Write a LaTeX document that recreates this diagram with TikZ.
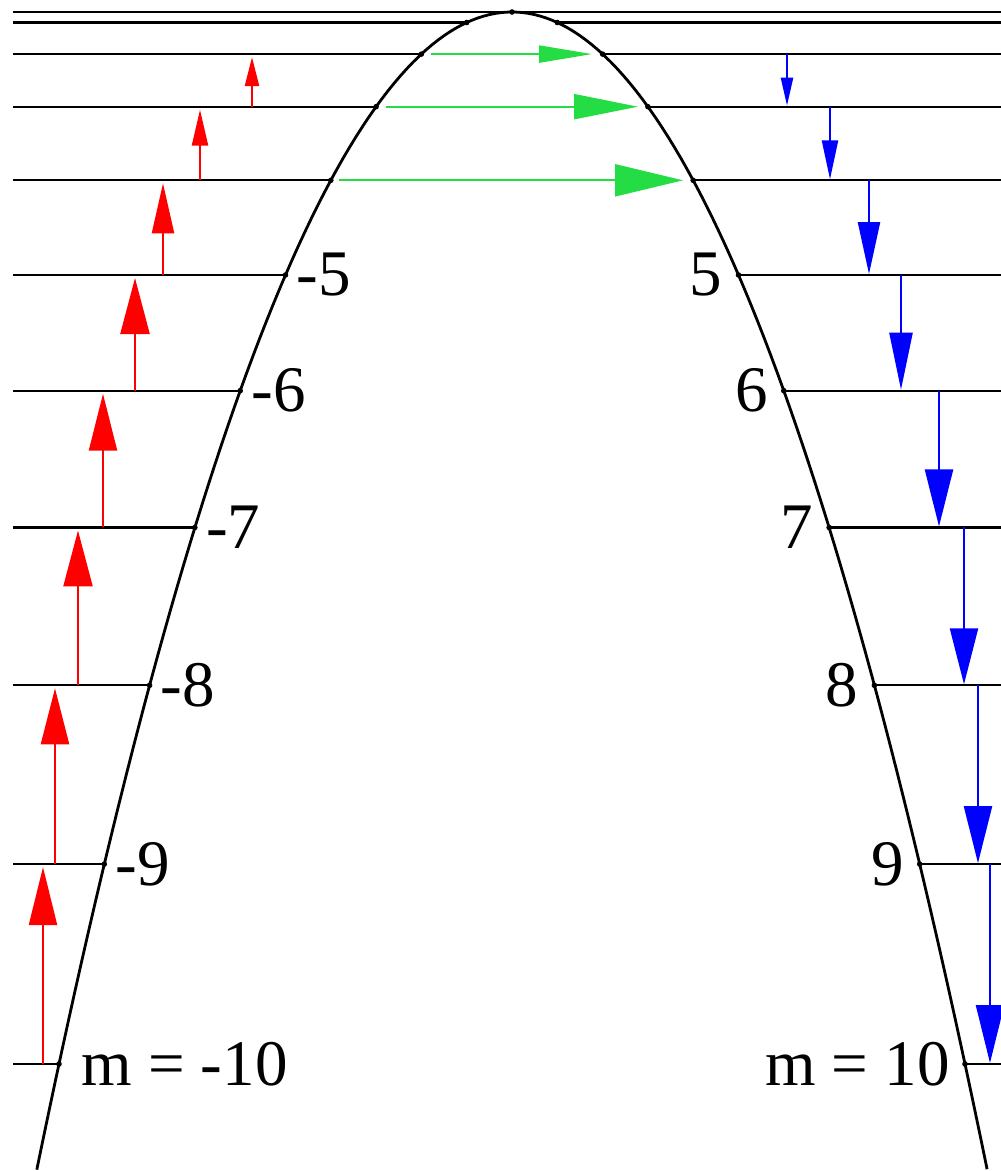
\documentclass[tikz,border=0pt]{standalone}
\usepackage{fontspec}
\setmainfont{Liberation Serif}
\usetikzlibrary{arrows.meta,calc}
\definecolor{arrgreen}{RGB}{36,220,68}
\begin{document}
\begin{tikzpicture}[x=1pt,y=-1pt,declare function={yl(\k)=12+10.52*(\k)*(\k);},
level/.style={line width=2.2pt},lab/.style={font=\fontsize{65}{65}\selectfont,inner sep=0pt},
uparr/.style={red,line width=2.3pt},downarr/.style={blue,line width=2.3pt},across/.style={arrgreen,line width=2.2pt}]
\useasboundingbox(0,0)rectangle(1001,1171);
\draw[line width=2.8pt]plot[domain=-10.49:10.49,samples=150]({512+45.3*\x},{yl(\x)});
\foreach \m in {0,...,10}{
\coordinate(l\m)at(13,{yl(\m)});\coordinate(r\m)at(1001,{yl(\m)});\coordinate(L\m)at({512-45.3*\m},{yl(\m)});\coordinate(R\m)at({512+45.3*\m},{yl(\m)});
\draw[level](l\m)--(L\m)(R\m)--(r\m);\fill(L\m)circle(2.8pt)(R\m)circle(2.8pt);}
\foreach \m in {5,...,9}{\node[lab,anchor=west,xshift=11pt](nl\m)at(L\m){-\m};\node[lab,anchor=east,xshift=-16pt](nr\m)at(R\m){\m};}
\node[lab,anchor=west,xshift=22pt](nl10)at(L10){m = -10};\node[lab,anchor=east,xshift=-15pt](nr10)at(R10){m = 10};
\foreach \m/\xa/\hl/\hw in {10/43/58/28,9/55/56/28,8/78/56/29,7/103/57/28,6/135/56/29,5/163/50/22,4/200/36/16,3/252/29/14}{
\coordinate(ua\m)at(\xa,{yl(\m)});\coordinate(ub\m)at(\xa,{yl(\m-1)+3});\draw[uparr,-{Triangle[length=\hl pt,width=\hw pt]}](ua\m)--(ub\m);}
\foreach \m/\xa/\hl/\hw in {2/787/28/12,3/830/39/16,4/869/52/22,5/901/57/23,6/939/57/28,7/964/56/28,8/978/57/28,9/990/58/28}{
\coordinate(da\m)at(\xa,{yl(\m)});\coordinate(db\m)at(\xa,{yl(\m+1)-1});\draw[downarr,-{Triangle[length=\hl pt,width=\hw pt]}](da\m)--(db\m);}
\foreach \m/\xa/\xb/\hl/\hw in {2/431/592/53/17,3/386/638/64/25,4/339/683/68/32}{
\coordinate(ga\m)at(\xa,{yl(\m)});\coordinate(gb\m)at(\xb,{yl(\m)});\draw[across,-{Triangle[length=\hl pt,width=\hw pt]}](ga\m)--(gb\m);}
\end{tikzpicture}
\end{document}
